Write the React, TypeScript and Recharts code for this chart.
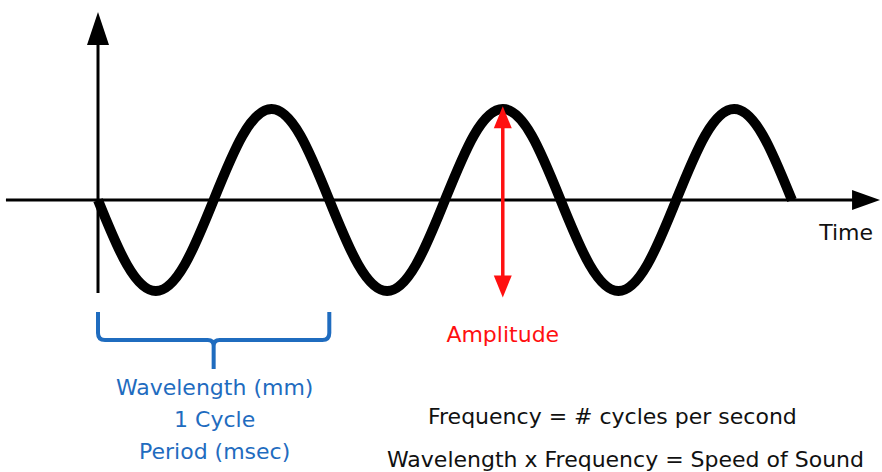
import React from 'react';
import { ComposedChart, Line, XAxis, YAxis, ReferenceLine } from 'recharts';

// wave sampled every 1/8 cycle (x in cycles, y in amplitudes)
const cycles = [0, 0.125, 0.25, 0.375, 0.5, 0.625, 0.75, 0.875, 1, 1.125, 1.25, 1.375, 1.5, 1.625, 1.75, 1.875, 2, 2.125, 2.25, 2.375, 2.5, 2.625, 2.75, 2.875, 3];
const amplitudes = [0, -0.71, -1, -0.71, 0, 0.71, 1, 0.71, 0, -0.71, -1, -0.71, 0, 0.71, 1, 0.71, 0, -0.71, -1, -0.71, 0, 0.71, 1, 0.71, 0];

const waveData = cycles.map((t, i) => ({ t, y: amplitudes[i] }));

const FONT = '"DejaVu Sans", "Open Sans", sans-serif';
const BLUE = '#1f6cbf';
const RED = '#ff1010';

const braceLabels = ['Wavelength (mm)', '1 Cycle', 'Period (msec)'];
const formulas = ['Frequency = # cycles per second', 'Wavelength x Frequency = Speed of Sound'];

const VerticalAxisArrow = (p: any) => {
  const { x1, y1, x2, y2 } = p;
  return (
    <g>
      <line x1={x1} y1={y1} x2={x2} y2={y2 + 30} stroke="#000" strokeWidth={3} />
      <polygon points={`${x2},${y2} ${x2 - 11},${y2 + 33} ${x2 + 11},${y2 + 33}`} fill="#000" />
    </g>
  );
};

const HorizontalAxisArrow = (p: any) => {
  const { x1, y1, x2, y2 } = p;
  return (
    <g>
      <line x1={x1} y1={y1} x2={x2 - 24} y2={y2} stroke="#000" strokeWidth={3} />
      <polygon points={`${x2},${y2} ${x2 - 28},${y2 - 10} ${x2 - 28},${y2 + 10}`} fill="#000" />
      <text x={x2 - 7} y={y2 + 40} textAnchor="end" fontFamily={FONT} fontSize={22} fill="#111">Time</text>
    </g>
  );
};

const AmplitudeArrow = (p: any) => {
  const { x1, y1, x2, y2 } = p;
  return (
    <g>
      <line x1={x1} y1={y1 + 18} x2={x2} y2={y2 - 18} stroke={RED} strokeWidth={3.5} />
      <polygon points={`${x1},${y1} ${x1 - 9},${y1 + 22} ${x1 + 9},${y1 + 22}`} fill={RED} />
      <polygon points={`${x2},${y2} ${x2 - 9},${y2 - 22} ${x2 + 9},${y2 - 22}`} fill={RED} />
      <text x={x2} y={y2 + 45} textAnchor="middle" fontFamily={FONT} fontSize={22} fill={RED}>Amplitude</text>
    </g>
  );
};

const Brace = (p: any) => {
  const { x1, y1, x2 } = p;
  const mid = (x1 + x2) / 2;
  const d = `M ${x1} ${y1} L ${x1} ${y1 + 21} Q ${x1} ${y1 + 28} ${x1 + 7} ${y1 + 28} L ${mid - 6} ${y1 + 28} Q ${mid} ${y1 + 28} ${mid} ${y1 + 34} L ${mid} ${y1 + 57} M ${mid} ${y1 + 34} Q ${mid} ${y1 + 28} ${mid + 6} ${y1 + 28} L ${x2 - 7} ${y1 + 28} Q ${x2} ${y1 + 28} ${x2} ${y1 + 21} L ${x2} ${y1}`;
  return (
    <g>
      <path d={d} stroke={BLUE} strokeWidth={4} fill="none" />
      {braceLabels.map((s, i) => (
        <text key={s} x={mid + 1} y={y1 + 83 + i * 32} textAnchor="middle" fontFamily={FONT} fontSize={22} fill={BLUE}>{s}</text>
      ))}
    </g>
  );
};

export default function App() {
  return (
    <div style={{ position: 'absolute', left: 0, top: 0, width: 882, height: 472, background: '#fff' }}>
      <ComposedChart width={882} height={472} data={waveData} margin={{ top: 0, right: 0, bottom: 0, left: 0 }}>
        <XAxis dataKey="t" type="number" domain={[-0.4237, 3.3895]} hide allowDataOverflow />
        <YAxis type="number" domain={[-2.989, 2.198]} hide allowDataOverflow />
        <ReferenceLine segment={[{ x: 0, y: -1.022 }, { x: 0, y: 2.066 }]} shape={VerticalAxisArrow} />
        <ReferenceLine segment={[{ x: -0.398, y: 0 }, { x: 3.381, y: 0 }]} shape={HorizontalAxisArrow} />
        <Line dataKey="y" type="natural" stroke="#000" strokeWidth={10} dot={false} activeDot={false} isAnimationActive={false} />
        <ReferenceLine segment={[{ x: 0, y: -1.23 }, { x: 1, y: -1.23 }]} shape={Brace} />
        <ReferenceLine segment={[{ x: 1.75, y: 1.03 }, { x: 1.75, y: -1.07 }]} shape={AmplitudeArrow} />
      </ComposedChart>
      {formulas.map((s, i) => (
        <div key={s} style={{ position: 'absolute', left: i === 0 ? 428 : 387, top: i === 0 ? 404 : 447, fontFamily: FONT, fontSize: 22, color: '#111', whiteSpace: 'nowrap' }}>{s}</div>
      ))}
    </div>
  );
}
